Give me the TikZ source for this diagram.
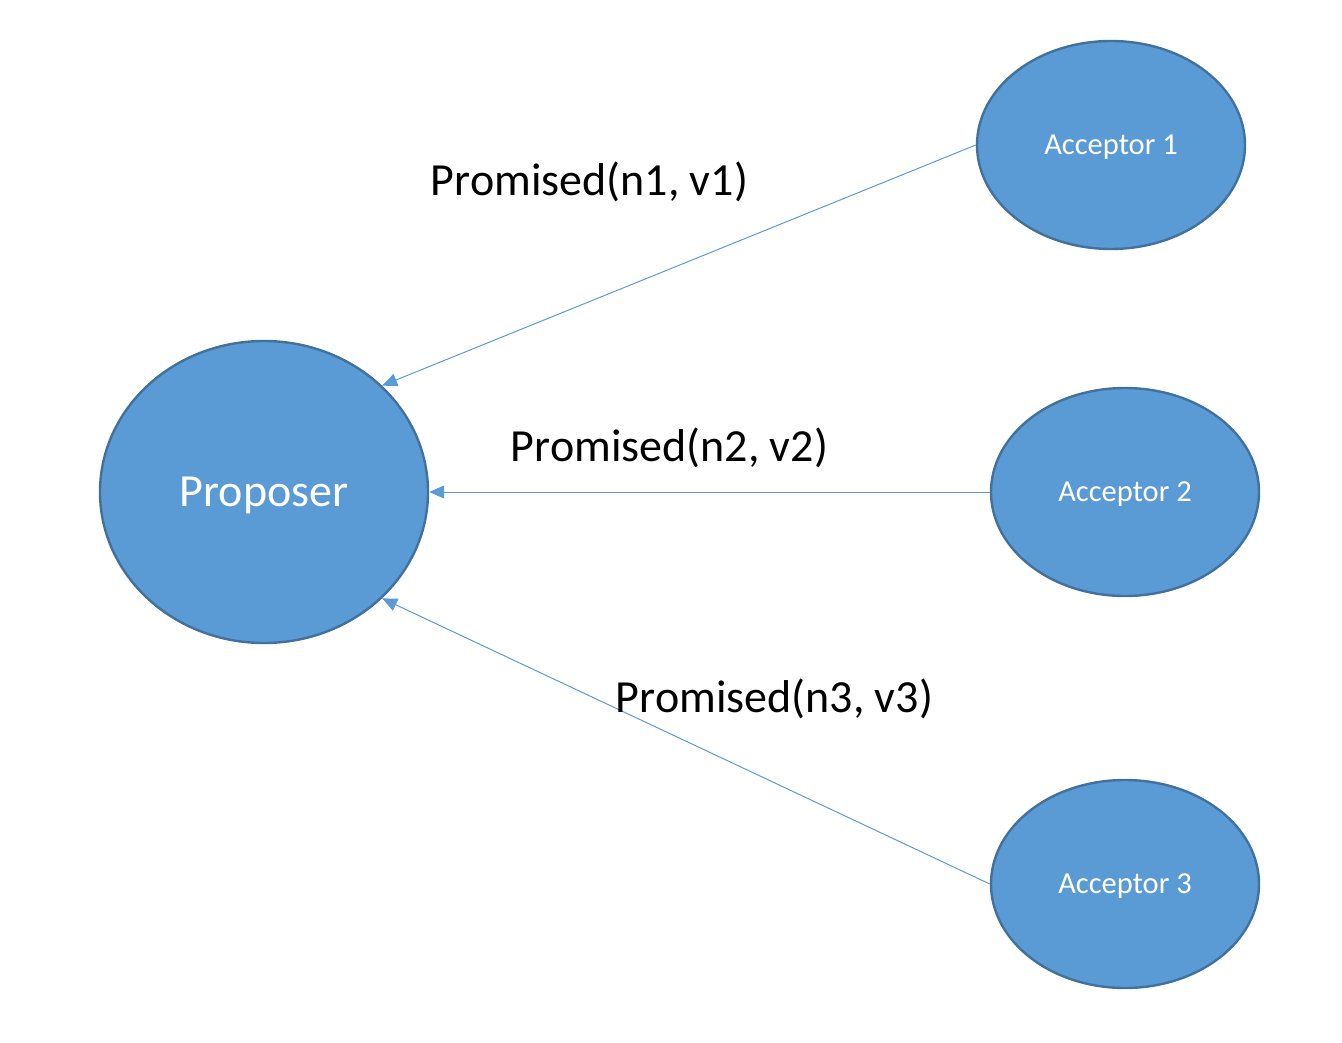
\documentclass[tikz,border=0pt]{standalone}
\usepackage{fontspec}
\setmainfont{Carlito}
\usetikzlibrary{shapes.geometric,arrows.meta}
\definecolor{nodefill}{HTML}{5B9BD5}
\definecolor{nodeedge}{HTML}{41719C}
\begin{document}
\begin{tikzpicture}[x=1pt,y=-1pt,
  bubble/.style={ellipse,draw=nodeedge,fill=nodefill,line width=2.4pt,inner sep=0pt,
    text=white,text depth=0pt},
  big/.style={bubble,font=\fontsize{46}{50}\selectfont,text height=29.6pt},
  small/.style={bubble,font=\fontsize{30.5}{34}\selectfont,text height=19.6pt,
    minimum width=268pt,minimum height=208pt},
  msg/.style={draw=nodefill,line width=1pt,-{Triangle[length=15pt,width=13pt]}},
  lbl/.style={font=\fontsize{46}{50}\selectfont,anchor=base,inner sep=0pt}]
\useasboundingbox (0,0) rectangle (1342,1043);
\node[big,minimum width=328pt,minimum height=302pt] (p) at (264,492) {Proposer};
\node[small] (a1) at (1111,145) {Acceptor 1};
\node[small] (a2) at (1125,492) {Acceptor 2};
\node[small] (a3) at (1125,884) {Acceptor 3};
\draw[msg] (a1.west) -- (p.42.5);
\draw[msg] (a2.west) -- (p.east);
\draw[msg] (a3.west) -- (p.-42.5);
\node[lbl] (l1) at (589.5,196) {Promised(n1, v1)};
\node[lbl] (l2) at (669.5,461) {Promised(n2, v2)};
\node[lbl] (l3) at (774.5,712) {Promised(n3, v3)};
\end{tikzpicture}
\end{document}
